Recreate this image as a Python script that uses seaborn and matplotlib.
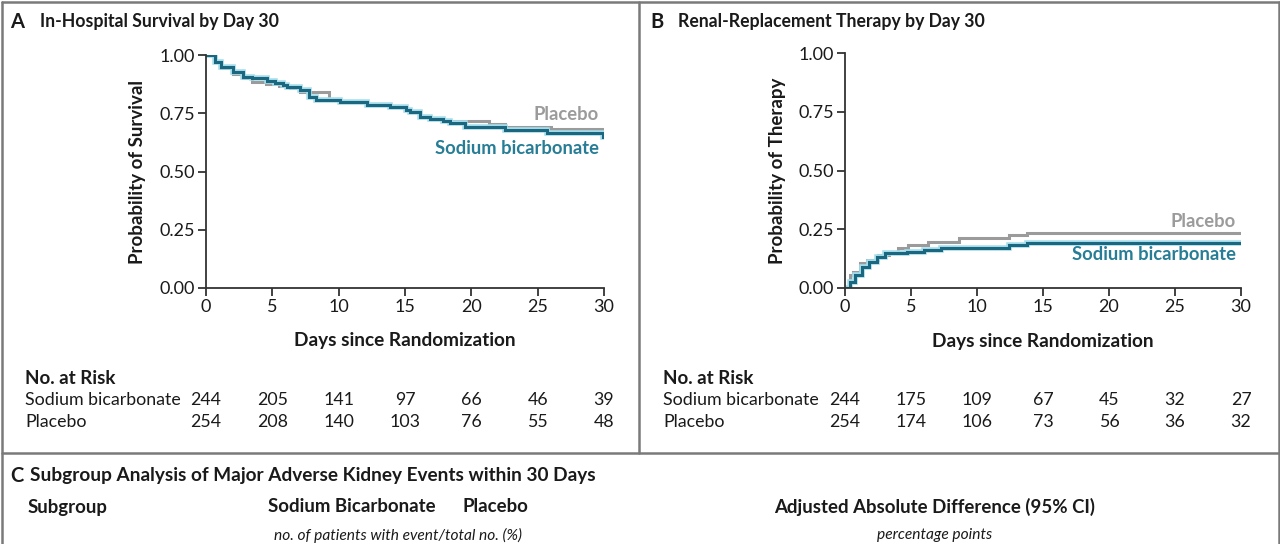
import numpy as np
import pandas as pd
import seaborn as sns
from matplotlib import pyplot as plt
from matplotlib.lines import Line2D
from matplotlib.transforms import blended_transform_factory

# Panel A: in-hospital survival (Kaplan-Meier steps)
sb_a_days = [0, 0.7, 1.1, 2.0, 2.8, 3.5, 4.6, 5.2, 5.8, 6.1, 7.1, 7.8, 8.3, 10.1, 12.1, 13.9,
             15.1, 15.4, 16.1, 16.9, 17.9, 18.4, 19.5, 22.5, 25.7, 29.9, 30]
sb_a_surv = [1.0, 0.971, 0.95, 0.928, 0.907, 0.903, 0.89, 0.88, 0.87, 0.864, 0.85, 0.82, 0.807,
             0.80, 0.785, 0.778, 0.764, 0.755, 0.735, 0.725, 0.717, 0.707, 0.692, 0.678, 0.664,
             0.65, 0.65]
pl_a_days = [0, 0.7, 1.1, 2.0, 2.8, 3.5, 4.5, 5.5, 6.3, 7.1, 9.3, 10.1, 12.1, 13.9, 15.1, 15.4,
             16.1, 16.9, 17.9, 21.3, 22.5, 26.0, 30]
pl_a_surv = [1.0, 0.968, 0.945, 0.92, 0.9, 0.885, 0.875, 0.865, 0.858, 0.843, 0.81, 0.80, 0.788,
             0.775, 0.765, 0.755, 0.738, 0.727, 0.717, 0.702, 0.692, 0.681, 0.681]

# Panel B: renal-replacement therapy (cumulative incidence)
sb_b_days = [0, 0.38, 0.76, 1.3, 1.8, 2.4, 3.0, 4.7, 6.0, 7.3, 12.4, 13.8, 30]
sb_b_prob = [0, 0.027, 0.055, 0.09, 0.112, 0.133, 0.148, 0.155, 0.162, 0.172, 0.183, 0.193, 0.193]
pl_b_days = [0, 0.36, 0.6, 1.1, 1.7, 2.5, 3.3, 4.0, 4.8, 6.3, 8.6, 12.4, 13.8, 30]
pl_b_prob = [0, 0.055, 0.07, 0.105, 0.12, 0.14, 0.155, 0.169, 0.183, 0.197, 0.211, 0.226, 0.235,
             0.235]

risk_days = [0, 5, 10, 15, 20, 25, 30]
risk_a_sb = [244, 205, 141, 97, 66, 46, 39]
risk_a_pl = [254, 208, 140, 103, 76, 55, 48]
risk_b_sb = [244, 175, 109, 67, 45, 32, 27]
risk_b_pl = [254, 174, 106, 73, 56, 36, 32]

TEAL = "#1b6780"
HALO = "#a6deec"
LABEL_TEAL = "#267d95"
GRAY = "#9b9b9b"
FRAME = "#7a7a7a"
TXT = "#1a1a1a"

sns.set_style("ticks")
plt.rcParams["font.family"] = ["Lato", "DejaVu Sans"]

W, H = 1280, 544
fig = plt.figure(figsize=(W / 100, H / 100), dpi=100)


def fx(px):
	return px / W


def fy(py):
	return 1 - py / H


def km_axes(left, right, top, bottom):
	return fig.add_axes([fx(left), fy(bottom), fx(right - left), (bottom - top) / H])


def draw_curve(ax, days, vals, color, halo=None):
	df = pd.DataFrame({"day": days, "val": vals})
	if halo is not None:
		sns.lineplot(data=df, x="day", y="val", ax=ax, color=halo, lw=4.0, estimator=None,
					 sort=False, drawstyle="steps-post", solid_joinstyle="miter")
	sns.lineplot(data=df, x="day", y="val", ax=ax, color=color, lw=2.2, estimator=None,
				 sort=False, drawstyle="steps-post", solid_joinstyle="miter")


def style_axes(ax, ylabel):
	ax.set_xlim(0, 30)
	ax.set_ylim(0, 1)
	ax.set_xticks(risk_days)
	ax.set_yticks([0, 0.25, 0.5, 0.75, 1.0])
	ax.set_yticklabels(["0.00", "0.25", "0.50", "0.75", "1.00"])
	ax.tick_params(direction="out", length=6, width=1.3, color="#333333", labelsize=13,
				   labelcolor=TXT, pad=2)
	sns.despine(ax=ax)
	for s in ("left", "bottom"):
		ax.spines[s].set_linewidth(1.3)
		ax.spines[s].set_color("#333333")
	ax.set_xlabel("Days since Randomization", fontsize=13.7, fontweight="bold", color=TXT)
	ax.xaxis.set_label_coords(0.5, -0.19)
	ax.set_ylabel(ylabel, fontsize=13.5, fontweight="bold", color=TXT)
	ax.yaxis.set_label_coords(-0.15, 0.5)
	ax.margins(0)


def risk_table(ax, x0, sb, pl):
	fig.text(fx(x0), fy(378), "No. at Risk", fontsize=13.5, fontweight="bold", color=TXT,
			 va="center")
	fig.text(fx(x0), fy(400), "Sodium bicarbonate", fontsize=12.8, color=TXT, va="center")
	fig.text(fx(x0), fy(422), "Placebo", fontsize=12.8, color=TXT, va="center")
	tr = blended_transform_factory(ax.transData, fig.transFigure)
	for d, a, b in zip(risk_days, sb, pl):
		ax.text(d, fy(400), str(a), transform=tr, ha="center", va="center", fontsize=12.8,
				color=TXT, clip_on=False)
		ax.text(d, fy(422), str(b), transform=tr, ha="center", va="center", fontsize=12.8,
				color=TXT, clip_on=False)


# ---- Panel A
ax_a = km_axes(206, 604, 55, 288)
draw_curve(ax_a, pl_a_days, pl_a_surv, GRAY)
draw_curve(ax_a, sb_a_days, sb_a_surv, TEAL, halo=HALO)
style_axes(ax_a, "Probability of Survival")
ax_a.text(29.6, 0.745, "Placebo", ha="right", va="center", fontsize=13.2, fontweight="bold",
		  color=GRAY)
ax_a.text(29.6, 0.598, "Sodium bicarbonate", ha="right", va="center", fontsize=13.2,
		  fontweight="bold", color=LABEL_TEAL)
fig.text(fx(10), fy(22), "A", fontsize=14.5, fontweight="bold", color=TXT, va="center")
fig.text(fx(40), fy(22), "In-Hospital Survival by Day 30", fontsize=12.7, fontweight="bold",
		 color=TXT, va="center")
risk_table(ax_a, 25, risk_a_sb, risk_a_pl)

# ---- Panel B
ax_b = km_axes(845, 1241, 53, 288)
draw_curve(ax_b, pl_b_days, pl_b_prob, GRAY)
draw_curve(ax_b, sb_b_days, sb_b_prob, TEAL, halo=HALO)
style_axes(ax_b, "Probability of Therapy")
ax_b.text(29.6, 0.283, "Placebo", ha="right", va="center", fontsize=13.2, fontweight="bold",
		  color=GRAY)
ax_b.text(29.6, 0.141, "Sodium bicarbonate", ha="right", va="center", fontsize=13.2,
		  fontweight="bold", color=LABEL_TEAL)
fig.text(fx(650), fy(22), "B", fontsize=14.5, fontweight="bold", color=TXT, va="center")
fig.text(fx(678), fy(22), "Renal-Replacement Therapy by Day 30", fontsize=12.7,
		 fontweight="bold", color=TXT, va="center")
risk_table(ax_b, 663, risk_b_sb, risk_b_pl)

# ---- Panel C header (cut off in the source)
fig.text(fx(10), fy(476), "C", fontsize=14.5, fontweight="bold", color=TXT, va="center")
fig.text(fx(30), fy(476), "Subgroup Analysis of Major Adverse Kidney Events within 30 Days",
		 fontsize=13.7, fontweight="bold", color=TXT, va="center")
fig.text(fx(28), fy(507), "Subgroup", fontsize=13.4, fontweight="bold", color=TXT, va="center")
fig.text(fx(268), fy(507), "Sodium Bicarbonate", fontsize=13.4, fontweight="bold", color=TXT,
		 va="center")
fig.text(fx(462), fy(507), "Placebo", fontsize=13.4, fontweight="bold", color=TXT, va="center")
fig.text(fx(935), fy(507), "Adjusted Absolute Difference (95% CI)", fontsize=13.4,
		 fontweight="bold", color=TXT, va="center", ha="center")
fig.text(fx(398), fy(535), "no. of patients with event/total no. (%)", fontsize=11.2,
		 style="italic", color=TXT, va="center", ha="center")
fig.text(fx(935), fy(535), "percentage points", fontsize=11.2, style="italic", color=TXT,
		 va="center", ha="center")

# ---- panel frames
frame = dict(color=FRAME, lw=1.8, transform=fig.transFigure)
fig.add_artist(Line2D([fx(1.5), fx(1278.5)], [fy(1.5), fy(1.5)], **frame))
fig.add_artist(Line2D([fx(1.5), fx(1.5)], [fy(1.5), fy(544)], **frame))
fig.add_artist(Line2D([fx(1278.5), fx(1278.5)], [fy(1.5), fy(544)], **frame))
fig.add_artist(Line2D([fx(639), fx(639)], [fy(1.5), fy(453)], **frame))
fig.add_artist(Line2D([fx(1.5), fx(1278.5)], [fy(453), fy(453)], **frame))

fig.savefig("out.png", dpi=100)
